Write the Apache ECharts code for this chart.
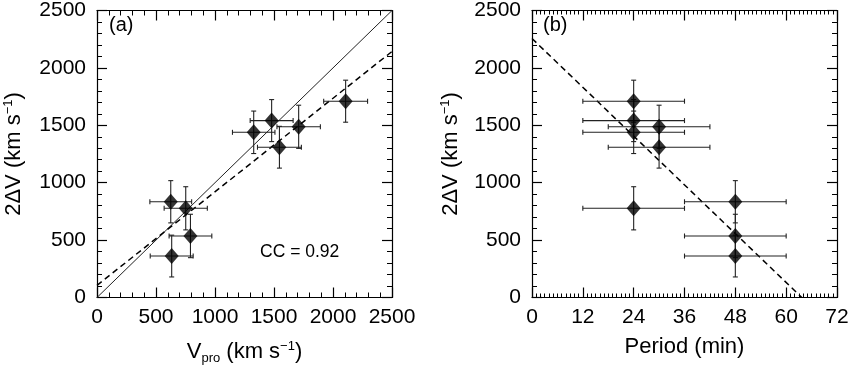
<!DOCTYPE html>
<html>
<head>
<meta charset="utf-8">
<script src="https://cdn.jsdelivr.net/npm/echarts@6/dist/echarts.min.js"></script>
<style>
  html, body { margin: 0; padding: 0; background: #fff; }
  #chart { width: 857px; height: 376px; }
</style>
</head>
<body>
<div id="chart"></div>
<script>
// values
let dv = [834, 777, 536, 361, 1439, 1541, 1309, 1487, 1710];
let dvErr = [184, 188, 189, 182, 185, 183, 182, 188, 183];
let vpro = [625, 752, 792, 633, 1328, 1480, 1546, 1709, 2107];
let vproErr = [177, 183, 181, 182, 180, 182, 186, 184, 186];
let period = [48, 24, 48, 48, 24, 24, 30, 30, 24];
let periodErr = [12, 12, 12, 12, 12, 12, 12, 12, 12];

let oneToOne = [[0, 0], [2500, 2500]];
let fitA = [[0, 106], [2500, 2143]];
let fitB = [[0, 2256], [63.7, 0]];

let FONT = 'Liberation Sans, Arial, sans-serif';

let chart = echarts.init(document.getElementById('chart'));

function axisBox(opts) {
  return Object.assign({
    axisLine: {show: true, onZero: false, lineStyle: {color: '#000', width: 1.2}},
    axisTick: {show: true, inside: true, length: 10, lineStyle: {color: '#000', width: 1.2}},
    splitLine: {show: false},
    axisLabel: {show: false}
  }, opts);
}

function minor(n, len) {
  return {show: true, splitNumber: n, length: len || 5, lineStyle: {color: '#000', width: 1}};
}

let labelStyle = {show: true, fontSize: 21, color: '#000', fontFamily: FONT,
  formatter: v => String(v)};

let nameRich = {
  sub: {fontSize: 13, fontFamily: FONT, color: '#000', verticalAlign: 'bottom', padding: [12, 0, 0, 0]},
  sup: {fontSize: 13, fontFamily: FONT, color: '#000', verticalAlign: 'top', padding: [0, 0, 10, 0]}
};
let nameStyle = {fontSize: 22, color: '#000', fontFamily: FONT, rich: nameRich};

function errorBars() {
  return function (params, api) {
    let x = api.value(0), y = api.value(1), ex = api.value(2), ey = api.value(3);
    let l = api.coord([x - ex, y]), r = api.coord([x + ex, y]);
    let t = api.coord([x, y + ey]), b = api.coord([x, y - ey]);
    let c = 2.5;
    let style = {stroke: '#222', lineWidth: 1.1};
    let seg = (x1, y1, x2, y2) => ({type: 'line', shape: {x1, y1, x2, y2}, style});
    return {
      type: 'group',
      children: [
        seg(l[0], l[1], r[0], r[1]),
        seg(l[0], l[1] - c, l[0], l[1] + c),
        seg(r[0], r[1] - c, r[0], r[1] + c),
        seg(t[0], t[1], b[0], b[1]),
        seg(t[0] - c, t[1], t[0] + c, t[1]),
        seg(b[0] - c, b[1], b[0] + c, b[1])
      ]
    };
  };
}

let dataA = dv.map((v, i) => [vpro[i], v, vproErr[i], dvErr[i]]);
let dataB = dv.map((v, i) => [period[i], v, periodErr[i], dvErr[i]]);

let option = {
  animation: false,
  backgroundColor: '#fff',
  grid: [
    {left: 97, top: 3, width: 295, height: 294.5},
    {left: 532, top: 3, width: 305, height: 294.5}
  ],
  xAxis: [
    axisBox({gridIndex: 0, type: 'value', min: 0, max: 2500, interval: 500, position: 'bottom',
      minorTick: minor(5),
      axisLabel: Object.assign({margin: 9}, labelStyle),
      name: 'V{sub|pro} (km s{sup|−1})', nameLocation: 'middle', nameGap: 42, nameTextStyle: nameStyle}),
    axisBox({gridIndex: 0, type: 'value', min: 0, max: 2500, interval: 500, position: 'top',
      minorTick: minor(5)}),
    axisBox({gridIndex: 1, type: 'value', min: 0, max: 72, interval: 12, position: 'bottom',
      minorTick: minor(12, 4),
      axisLabel: Object.assign({margin: 9}, labelStyle),
      name: 'Period (min)', nameLocation: 'middle', nameGap: 38, nameTextStyle: nameStyle}),
    axisBox({gridIndex: 1, type: 'value', min: 0, max: 72, interval: 12, position: 'top',
      minorTick: minor(12, 4)})
  ],
  yAxis: [
    axisBox({gridIndex: 0, type: 'value', min: 0, max: 2500, interval: 500, position: 'left',
      minorTick: minor(5),
      axisLabel: Object.assign({margin: 11}, labelStyle),
      name: '2ΔV (km s{sup|−1})', nameLocation: 'middle', nameGap: 72, nameTextStyle: nameStyle}),
    axisBox({gridIndex: 0, type: 'value', min: 0, max: 2500, interval: 500, position: 'right',
      minorTick: minor(5)}),
    axisBox({gridIndex: 1, type: 'value', min: 0, max: 2500, interval: 500, position: 'left',
      minorTick: minor(5),
      axisLabel: Object.assign({margin: 11}, labelStyle),
      name: '2ΔV (km s{sup|−1})', nameLocation: 'middle', nameGap: 70, nameTextStyle: nameStyle}),
    axisBox({gridIndex: 1, type: 'value', min: 0, max: 2500, interval: 500, position: 'right',
      minorTick: minor(5)})
  ],
  series: [
    {type: 'line', xAxisIndex: 0, yAxisIndex: 0, data: oneToOne, symbol: 'none',
      lineStyle: {color: '#222', width: 1}, z: 1},
    {type: 'line', xAxisIndex: 0, yAxisIndex: 0, data: fitA, symbol: 'none',
      lineStyle: {color: '#000', width: 1.5, type: [6, 4]}, z: 1},
    {type: 'custom', xAxisIndex: 0, yAxisIndex: 0, data: dataA, renderItem: errorBars(), z: 2},
    {type: 'scatter', xAxisIndex: 0, yAxisIndex: 0, data: dataA.map(d => [d[0], d[1]]),
      symbol: 'diamond', symbolSize: [14, 16], itemStyle: {color: '#000'}, z: 3},
    {type: 'line', xAxisIndex: 2, yAxisIndex: 2, data: fitB, symbol: 'none',
      lineStyle: {color: '#000', width: 1.5, type: [6, 4]}, z: 1},
    {type: 'custom', xAxisIndex: 2, yAxisIndex: 2, data: dataB, renderItem: errorBars(), z: 2},
    {type: 'scatter', xAxisIndex: 2, yAxisIndex: 2, data: dataB.map(d => [d[0], d[1]]),
      symbol: 'diamond', symbolSize: [14, 16], itemStyle: {color: '#000'}, z: 3}
  ],
  graphic: [
    {type: 'text', left: 109, top: 15, style: {text: '(a)', fontSize: 20, fill: '#000', fontFamily: FONT}},
    {type: 'text', left: 543, top: 15, style: {text: '(b)', fontSize: 20, fill: '#000', fontFamily: FONT}},
    {type: 'text', left: 260, top: 243, style: {text: 'CC = 0.92', fontSize: 17.5, fill: '#000', fontFamily: FONT}}
  ]
};

chart.setOption(option);
</script>
</body>
</html>
